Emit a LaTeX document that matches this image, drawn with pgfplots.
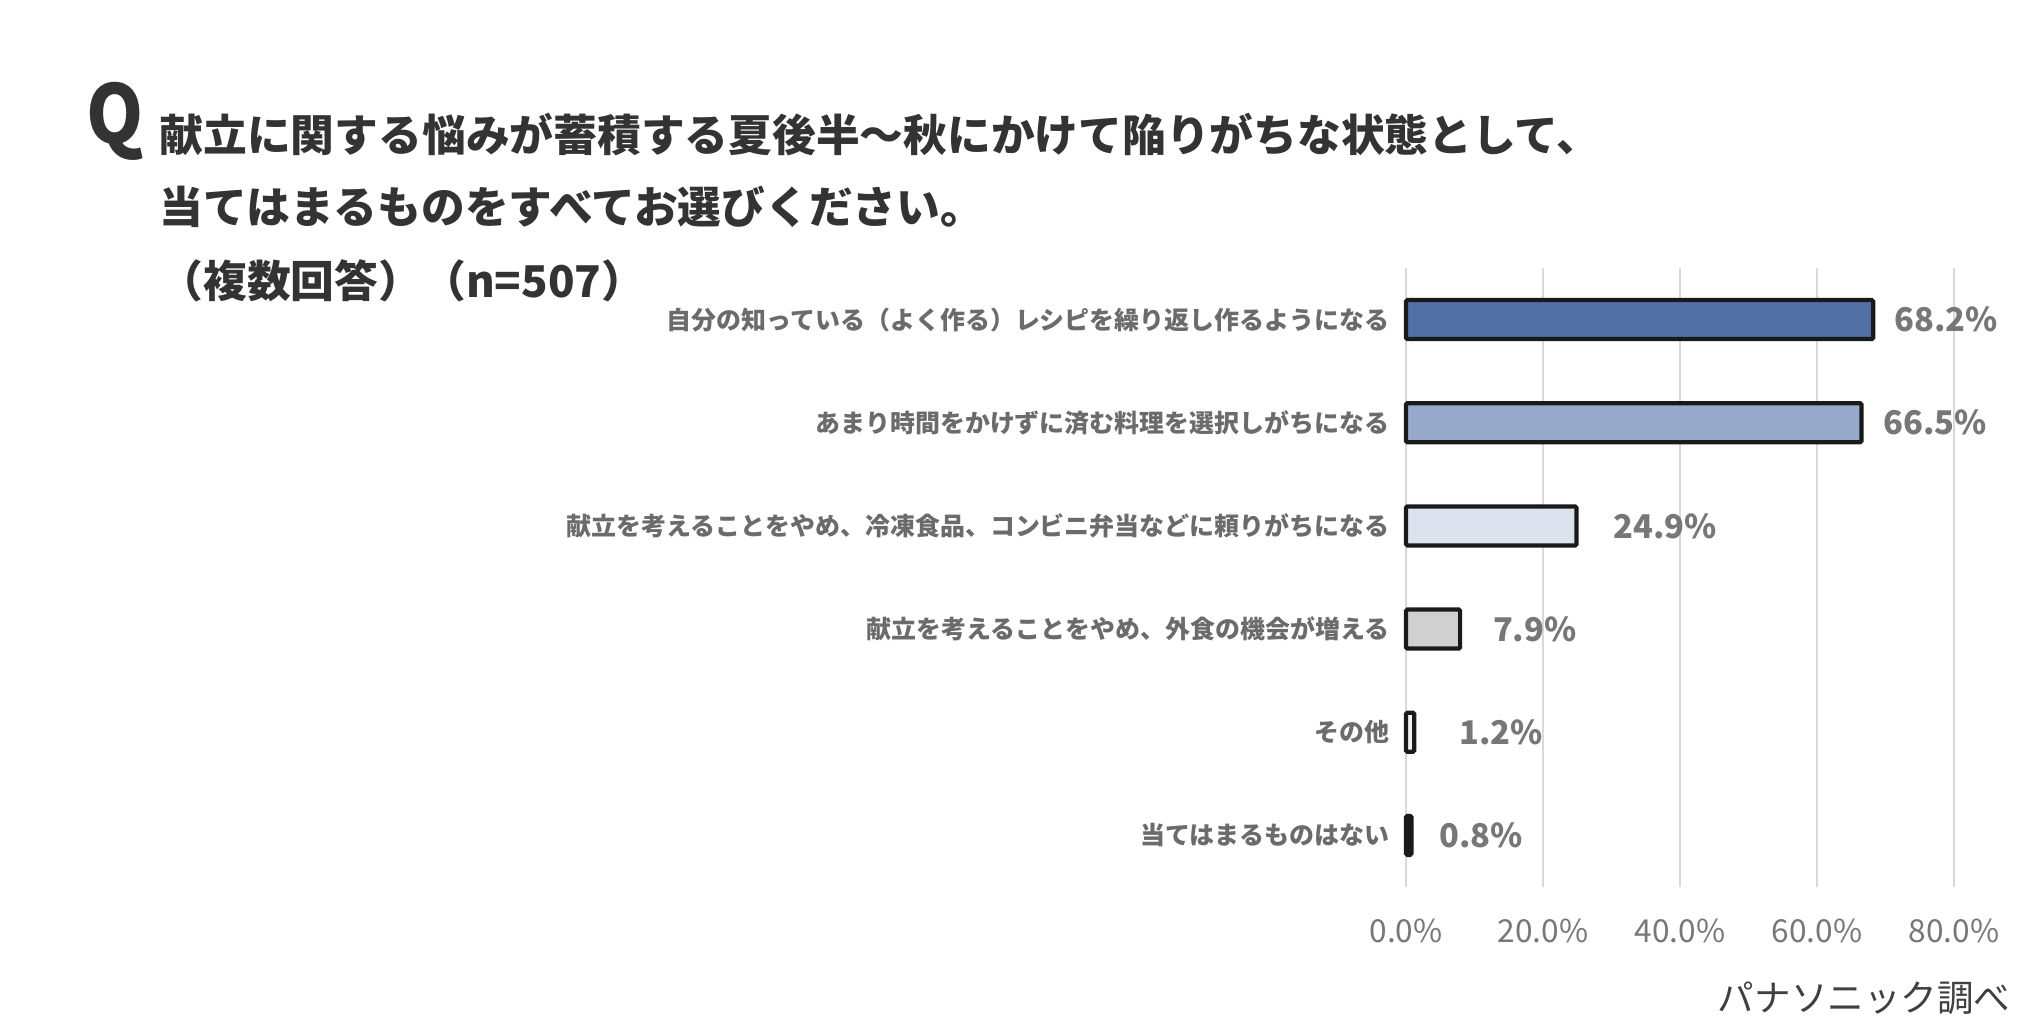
\documentclass[border=0pt]{standalone}
\usepackage{fontspec}
\setmainfont{Noto Sans CJK JP}
\usepackage{graphicx}
\usepackage{pgfplots}
\pgfplotsset{compat=1.18}
\definecolor{titlec}{HTML}{333333}
\definecolor{catc}{HTML}{6B6B6B}
\definecolor{valc}{HTML}{777777}
\definecolor{tickc}{HTML}{777777}
\definecolor{srcc}{HTML}{404040}
\definecolor{gridc}{HTML}{D9D9D9}
\definecolor{edgec}{HTML}{1A1A1A}
\definecolor{cA}{HTML}{5070A6}
\definecolor{cB}{HTML}{97AACB}
\definecolor{cC}{HTML}{DCE3EF}
\definecolor{cD}{HTML}{D0D0D0}
\definecolor{cE}{HTML}{F2F2F2}
\definecolor{cF}{HTML}{1A1A1A}
\pgfplotstableread{
lx   y  v
71.2 0  68.2
69.6 1  66.5
30.2 2  24.9
12.6 3  7.9
7.7  4  1.2
4.8  5  0.8
}\labtable
\begin{document}
\begin{tikzpicture}
\path[use as bounding box] (0,0) rectangle (20.38,10.34);
\node[anchor=base west, inner sep=0pt, text=titlec, font=\fontsize{23}{24}\selectfont\bfseries] at (0.86,8.90) {\scalebox{0.9}[1]{Q}};
\begin{scope}[every node/.style={anchor=base west, inner sep=0pt, text=titlec, font=\fontsize{12.45}{14}\selectfont\bfseries}]
\node at (1.59,8.82) {献立に関する悩みが蓄積する夏後半〜秋にかけて陥りがちな状態として、};
\node at (1.59,8.10) {当てはまるものをすべてお選びください。};
\node at (1.59,7.36) {（複数回答）（n=507）};
\end{scope}
\node[anchor=base east, inner sep=0pt, text=srcc, font=\fontsize{10.4}{12}\selectfont] at (20.11,0.22) {パナソニック調べ};
\begin{axis}[
  at={(14.06cm,1.47cm)}, anchor=south west,
  scale only axis, width=5.48cm, height=6.19cm,
  xmin=0, xmax=80, ymin=-0.5, ymax=5.5, y dir=reverse,
  axis line style={draw=none}, tick style={draw=none}, major tick length=0pt,
  xmajorgrids, grid style={color=gridc, line width=0.57pt},
  xtick={0,20,40,60,80},
  xticklabels={0.0\%,20.0\%,40.0\%,60.0\%,80.0\%},
  xticklabel style={anchor=base, inner sep=0pt, yshift=-0.55cm, text=tickc, font=\fontsize{9}{10}\selectfont},
  ytick={0,1,2,3,4,5},
  yticklabels={自分の知っている（よく作る）レシピを繰り返し作るようになる,あまり時間をかけずに済む料理を選択しがちになる,献立を考えることをやめ、冷凍食品、コンビニ弁当などに頼りがちになる,献立を考えることをやめ、外食の機会が増える,その他,当てはまるものはない},
  yticklabel style={anchor=east, inner sep=0pt, xshift=-0.16cm, text=catc, font=\fontsize{7.1}{8}\selectfont\bfseries},
  /pgf/number format/assume math mode=true,
  clip=false,
]
\pgfplotsset{bb/.style={xbar, bar width=0.39cm, bar shift=0pt, draw=edgec, line width=1.2pt, rounded corners=0.4pt}}
\addplot[bb, fill=cA] coordinates {(68.2,0)};
\addplot[bb, fill=cB] coordinates {(66.5,1)};
\addplot[bb, fill=cC] coordinates {(24.9,2)};
\addplot[bb, fill=cD] coordinates {(7.9,3)};
\addplot[bb, fill=cE] coordinates {(1.2,4)};
\addplot[bb, fill=cF] coordinates {(0.8,5)};
\addplot[draw=none, mark=none, point meta=explicit,
  nodes near coords={\pgfmathprintnumber[fixed,precision=1,fixed zerofill]{\pgfplotspointmeta}\%},
  nodes near coords style={anchor=west, inner sep=0pt, text=valc, font=\fontsize{9.3}{11}\selectfont\bfseries}]
  table[x=lx, y=y, meta=v] {\labtable};
\end{axis}
\end{tikzpicture}
\end{document}
